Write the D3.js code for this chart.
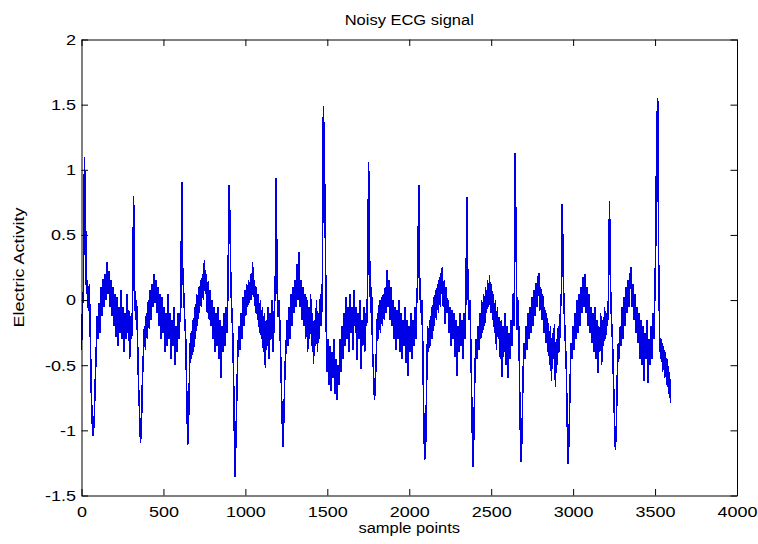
<!DOCTYPE html>
<html><head><meta charset="utf-8">
<script src="https://cdn.jsdelivr.net/npm/d3@7/dist/d3.min.js"></script>
<style>
body{margin:0;background:#fff}
text{font-family:"Liberation Sans",Arial,Helvetica,sans-serif;fill:#000}
</style>
</head><body>
<svg id="chart" width="758" height="544"></svg>
<script>
// ---- data ----
const titleText = "Noisy ECG signal";
const xLabelText = "sample points";
const yLabelText = "Electric Activity";
const xTicks = [0, 500, 1000, 1500, 2000, 2500, 3000, 3500, 4000];
const yTicks = [-1.5, -1, -0.5, 0, 0.5, 1, 1.5, 2];
const sampleStep = 6; // samples between consecutive readings

// readings, one per 6 samples, grouped by heartbeat
const beat01 = [-0.38,-0.05,0.08,1.1,0.72,0.05,0.15,-0.08,0.12,-0.3,-0.72,-0.95,-1.04,-0.9,-0.62,-0.38,-0.12,-0.3,-0.02,-0.25,0.1,-0.12,0.16,-0.05,0.2,0.0,0.29,0.05,0.22,-0.05,0.15,-0.12,0.1,-0.2,0.05,-0.28,0.02,-0.35,-0.05,-0.25,0.08,-0.3,-0.05,-0.4,-0.1,-0.3,0.05,-0.25,-0.08,-0.45,-0.12,-0.3,0.0];
const beat02 = [0.8,0.1,-0.15,0.0,-0.3,-0.65,-0.85,-1.1,-0.95,-0.6,-0.4,-0.2,-0.38,-0.1,-0.3,0.0,-0.22,0.08,-0.15,0.12,-0.05,0.2,-0.02,0.15,-0.1,0.1,-0.2,0.05,-0.3,0.02,-0.25,-0.05,-0.4,-0.1,-0.35,0.05,-0.3,-0.1,-0.45,-0.15,-0.35,-0.05,-0.5,-0.2,-0.4,-0.1,-0.3,-0.15,-0.05];
const beat03 = [0.91,0.2,0.05,-0.15,-0.3,-0.7,-1.11,-0.9,-0.5,-0.25,-0.45,-0.15,-0.4,-0.05,-0.3,0.05,-0.2,0.1,-0.1,0.15,-0.05,0.2,0.0,0.31,0.05,0.2,-0.1,0.15,-0.15,0.08,-0.2,0.0,-0.3,-0.05,-0.4,-0.1,-0.35,-0.05,-0.45,-0.15,-0.6,-0.2,-0.4,-0.1,-0.35,-0.05,-0.25,0.1];
const beat04 = [0.88,0.62,0.08,-0.1,-0.3,-0.75,-1.36,-1.1,-0.72,-0.4,-0.2,-0.38,-0.1,-0.3,0.02,-0.2,0.08,-0.12,0.12,-0.05,0.15,-0.02,0.2,0.0,0.29,0.02,0.15,-0.1,0.1,-0.15,0.05,-0.25,0.0,-0.3,-0.05,-0.4,-0.1,-0.52,-0.15,-0.35,-0.05,-0.45,-0.1,-0.3,0.0,-0.4,-0.1,0.08];
const beat05 = [0.94,0.08,-0.13,0.0,-0.25,-0.56,-0.9,-1.13,-0.85,-0.5,-0.38,-0.15,-0.35,-0.05,-0.3,0.05,-0.2,0.1,-0.1,0.15,-0.05,0.28,0.0,0.37,-0.05,0.15,-0.15,0.1,-0.2,0.05,-0.3,0.02,-0.4,-0.05,-0.3,0.05,-0.35,-0.1,-0.49,-0.15,-0.35,0.0,-0.4,-0.1,-0.3,0.05,-0.2,0.15];
const beat06 = [1.49,1.13,0.46,-0.25,-0.55,-0.3,-0.65,-0.35,-0.7,-0.4,-0.6,-0.3,-0.72,-0.45,-0.77,-0.5,-0.65,-0.3,-0.55,-0.2,-0.45,-0.1,-0.35,0.02,-0.3,-0.05,-0.4,0.05,-0.25,-0.05,-0.38,0.08,-0.2,-0.05,-0.46,-0.1,-0.3,0.0,-0.53,-0.15,-0.35,-0.05,-0.4,-0.1,-0.2,0.1];
const beat07 = [1.06,0.36,-0.1,0.1,-0.38,-0.55,-0.77,-0.6,-0.38,-0.1,-0.3,0.0,-0.25,0.02,-0.2,0.05,-0.15,0.1,-0.1,0.23,-0.05,0.15,-0.15,0.1,-0.2,0.0,-0.3,-0.05,-0.38,-0.08,-0.3,0.0,-0.4,-0.1,-0.45,-0.15,-0.35,-0.05,-0.48,-0.15,-0.58,-0.2,-0.4,-0.1,-0.45,-0.15,-0.35,-0.05,-0.3,0.0,0.18];
const beat08 = [0.88,0.15,-0.1,0.0,-0.3,-0.85,-1.23,-1.12,-0.66,-0.2,-0.4,-0.15,-0.35,-0.05,-0.3,0.02,-0.2,0.08,-0.15,0.12,-0.1,0.18,-0.05,0.22,0.25,-0.05,0.15,-0.18,0.1,-0.1,0.0,-0.25,-0.05,-0.35,-0.08,-0.3,-0.1,-0.44,-0.15,-0.58,-0.2,-0.4,-0.1,-0.35,-0.15,-0.45,-0.1,-0.3,0.05];
const beat09 = [0.79,0.1,-0.15,0.0,-0.35,-0.8,-1.28,-1.05,-0.6,-0.3,-0.45,-0.2,-0.38,-0.1,-0.3,0.0,-0.25,0.05,-0.2,0.1,-0.1,0.15,-0.05,0.19,-0.1,0.12,-0.15,0.05,-0.25,0.0,-0.38,-0.05,-0.3,-0.13,-0.45,-0.15,-0.59,-0.2,-0.4,-0.1,-0.5,-0.2,-0.6,-0.25,-0.45,-0.15,-0.35,0.05,-0.2];
const beat10 = [1.13,0.45,-0.23,0.0,-0.3,-0.9,-1.24,-1.05,-0.6,-0.33,-0.45,-0.2,-0.38,-0.1,-0.3,-0.05,-0.25,0.02,-0.2,0.08,-0.12,0.13,-0.05,0.15,0.21,-0.08,0.1,-0.15,0.05,-0.25,-0.05,-0.33,-0.1,-0.4,-0.18,-0.5,-0.2,-0.62,-0.25,-0.45,-0.18,-0.67,-0.3,-0.5,-0.2,-0.4,-0.1,0.05];
const beat11 = [0.74,0.18,-0.1,-0.3,-0.5,-0.95,-1.26,-1.0,-0.6,-0.33,-0.45,-0.2,-0.38,-0.1,-0.3,0.0,-0.25,0.05,-0.2,0.1,-0.1,0.18,-0.05,0.2,-0.1,0.1,-0.2,0.05,-0.25,-0.05,-0.33,-0.1,-0.4,-0.05,-0.45,-0.15,-0.56,-0.2,-0.4,-0.1,-0.5,-0.15,-0.35,-0.05,-0.3,-0.1,-0.2,0.05];
const beat12 = [0.76,0.12,-0.15,-0.3,-0.6,-0.9,-1.15,-0.95,-0.55,-0.33,-0.45,-0.2,-0.35,-0.05,-0.3,0.02,-0.2,0.1,-0.1,0.15,-0.05,0.2,0.25,-0.05,0.12,-0.15,0.05,-0.25,-0.05,-0.33,-0.1,-0.45,-0.15,-0.5,-0.2,-0.62,-0.25,-0.45,-0.15,-0.64,-0.3,-0.5,-0.2,-0.45,-0.1,-0.3,0.0,0.42];
const beat13 = [1.29,1.55,0.3,-0.28,-0.45,-0.3,-0.55,-0.35,-0.6,-0.4,-0.65,-0.45,-0.72,-0.55,-0.79];

const signal = [].concat(beat01,beat02,beat03,beat04,beat05,beat06,beat07,beat08,beat09,beat10,beat11,beat12,beat13);

// ---- layout ----
const W = 758, H = 544;
const L = 81.5, R = 737, T = 39.5, B = 495.5;
const svg = d3.select("#chart");

const x = d3.scaleLinear().domain([0, 4000]).range([L, R]);
const y = d3.scaleLinear().domain([-1.5, 2]).range([B, T]);

svg.append("rect").attr("width", W).attr("height", H).attr("fill", "#fff");

// signal
const line = d3.line().x((d, i) => x(i * sampleStep)).y(d => y(d));
svg.append("path").datum(signal)
  .attr("d", line).attr("fill", "none")
  .attr("stroke", "#0000e6").attr("stroke-width", 1.6)
  .attr("stroke-linejoin", "miter").attr("stroke-miterlimit", 2)
  .attr("shape-rendering", "crispEdges");

const tk = 6.5;
const fs = 15;
const sx = 1.2; // horizontal stretch of the reference lettering
function styleAxis(g) {
  g.selectAll("path.domain").attr("stroke", "#000").attr("stroke-width", 1);
  g.selectAll(".tick line").attr("stroke", "#000").attr("stroke-width", 1);
  g.selectAll("text").attr("font-size", fs).attr("font-family", '"Liberation Sans",Arial,sans-serif').attr("fill", "#000");
}
svg.append("g").attr("transform", `translate(0,${B})`)
  .call(d3.axisBottom(x).tickValues(xTicks).tickFormat(d3.format("d")).tickSizeInner(-tk).tickSizeOuter(0).tickPadding(11))
  .call(styleAxis)
  .selectAll(".tick text").attr("transform", `scale(${sx},1)`);
svg.append("g").attr("transform", `translate(${L},0)`)
  .call(d3.axisLeft(y).tickValues(yTicks).tickFormat(d => String(d)).tickSizeInner(-tk).tickSizeOuter(0).tickPadding(4.6))
  .call(styleAxis)
  .selectAll(".tick text").attr("transform", `scale(${sx},1)`);
svg.append("g").attr("transform", `translate(0,${T})`)
  .call(d3.axisTop(x).tickValues(xTicks).tickFormat("").tickSizeInner(-tk).tickSizeOuter(0))
  .call(styleAxis);
svg.append("g").attr("transform", `translate(${R},0)`)
  .call(d3.axisRight(y).tickValues(yTicks).tickFormat("").tickSizeInner(-tk).tickSizeOuter(0))
  .call(styleAxis);

svg.append("text").attr("transform", `translate(${(L + R) / 2},25) scale(1.1,1)`).attr("text-anchor", "middle")
  .attr("font-size", fs).text(titleText);
svg.append("text").attr("transform", `translate(${(L + R) / 2},533) scale(1.1,1)`).attr("text-anchor", "middle")
  .attr("font-size", fs).text(xLabelText);
svg.append("text").attr("transform", `translate(24,${(T + B) / 2}) rotate(-90) scale(1.2,1)`).attr("text-anchor", "middle")
  .attr("font-size", fs).text(yLabelText);
</script>
</body></html>
